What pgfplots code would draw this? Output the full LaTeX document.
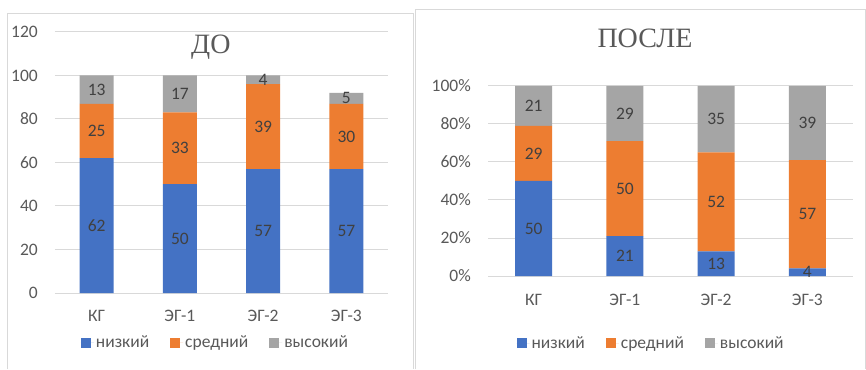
\documentclass[border=0pt]{standalone}
\usepackage{pgfplots}
\usepackage{pgfplotstable}
\pgfplotsset{compat=1.18}
\usepackage{fontspec}
\setmainfont{Carlito}
\newfontfamily\titlefont{Liberation Serif}
\definecolor{cblue}{HTML}{4472C4}
\definecolor{corange}{HTML}{ED7D31}
\definecolor{cgray}{HTML}{A5A5A5}
\definecolor{txt}{HTML}{595959}
\definecolor{lbl}{HTML}{404040}
\definecolor{gridc}{HTML}{D9D9D9}
\newcommand\fs{\fontsize{17.5}{20}\selectfont}

\pgfplotstableread{
x low mid high
0 62 25 13
1 50 33 17
2 57 39 4
3 57 30 5
}\dataDo
\pgfplotstableread{
x low mid high
0 50 29 21
1 21 50 29
2 13 52 35
3 4 57 39
}\dataPosle

\pgfplotsset{
  base/.style={
    scale only axis, anchor=south west,
    xmin=-0.5, xmax=3.5, ymin=0,
    /pgf/number format/assume math mode=true,
    axis line style={draw=none}, tick style={draw=none},
    ticklabel style={font=\fs, text=txt},
    xtick={0,1,2,3}, xticklabels={КГ,ЭГ-1,ЭГ-2,ЭГ-3},
    every y tick label/.append style={inner sep=0pt, anchor=east, xshift=-17pt},
    ymajorgrids, grid style={gridc, line width=1pt},
  },
  lblaxis/.style={
    scale only axis, anchor=south west,
    xmin=-0.5, xmax=3.5, ymin=0, hide axis,
  },
  lblplot/.style={draw=none, mark=none, nodes near coords, point meta=explicit symbolic,
    every node near coord/.append style={anchor=center, font=\fs, text=lbl, inner sep=0pt}},
}

\begin{document}
\begin{tikzpicture}
\path[use as bounding box, fill=white] (0,0) rectangle (866pt,369pt);
% panel frames
\draw[gridc, line width=1pt] (7pt,0pt) -- (7pt,355pt) -- (413pt,355pt) -- (413pt,0pt);
\draw[gridc, line width=1pt] (415pt,0pt) -- (415pt,359pt) -- (865pt,359pt) -- (865pt,0pt);

% ---------- ДО ----------
\begin{axis}[base, at={(55pt,76pt)}, width=333pt, height=261pt,
  ymax=120, ytick={0,20,...,120},
  ybar stacked, bar width=34pt,
  every x tick label/.append style={inner sep=0pt, anchor=base, yshift=-28.5pt},
  title={ДО}, title style={at={(axis description cs:0.468,0.8946)}, anchor=base,
    font=\titlefont\fontsize{28}{30}\selectfont, text=txt, inner sep=0pt},
  legend style={at={(axis description cs:0.482,-0.19)}, anchor=center, draw=none, fill=none,
    legend columns=3, font=\fs, text=txt,
    /tikz/every even column/.append style={column sep=19pt}},
  legend image code/.code={\fill[#1] (0pt,-5pt) rectangle (10pt,5pt); \path (0pt,0pt) -- (13pt,0pt);},
]
\addplot[fill=cblue, draw=none] table[x=x, y=low] {\dataDo};
\addplot[fill=corange, draw=none] table[x=x, y=mid] {\dataDo};
\addplot[fill=cgray, draw=none] table[x=x, y=high] {\dataDo};
\legend{низкий, средний, высокий}
\end{axis}
\begin{axis}[lblaxis, at={(55pt,76pt)}, width=333pt, height=261pt, ymax=120]
\addplot[lblplot] table[x=x, y expr=\thisrow{low}/2, meta=low] {\dataDo};
\addplot[lblplot] table[x=x, y expr=\thisrow{low}+\thisrow{mid}/2, meta=mid] {\dataDo};
\addplot[lblplot] table[x=x, y expr=\thisrow{low}+\thisrow{mid}+\thisrow{high}/2, meta=high] {\dataDo};
\end{axis}

% ---------- ПОСЛЕ ----------
\begin{axis}[base, at={(488pt,93pt)}, width=365pt, height=190pt,
  ymax=100, ytick={0,20,...,100}, yticklabel={\pgfmathprintnumber{\tick}\%},
  ybar stacked, bar width=37pt,
  every x tick label/.append style={inner sep=0pt, anchor=base, yshift=-29.5pt},
  title={ПОСЛЕ}, title style={at={(axis description cs:0.430,1.172)}, anchor=base,
    font=\titlefont\fontsize{28}{30}\selectfont, text=txt, inner sep=0pt},
  legend style={at={(axis description cs:0.447,-0.353)}, anchor=center, draw=none, fill=none,
    legend columns=3, font=\fs, text=txt,
    /tikz/every even column/.append style={column sep=19pt}},
  legend image code/.code={\fill[#1] (0pt,-5pt) rectangle (10pt,5pt); \path (0pt,0pt) -- (13pt,0pt);},
]
\addplot[fill=cblue, draw=none] table[x=x, y=low] {\dataPosle};
\addplot[fill=corange, draw=none] table[x=x, y=mid] {\dataPosle};
\addplot[fill=cgray, draw=none] table[x=x, y=high] {\dataPosle};
\legend{низкий, средний, высокий}
\end{axis}
\begin{axis}[lblaxis, at={(488pt,93pt)}, width=365pt, height=190pt, ymax=100]
\addplot[lblplot] table[x=x, y expr=\thisrow{low}/2, meta=low] {\dataPosle};
\addplot[lblplot] table[x=x, y expr=\thisrow{low}+\thisrow{mid}/2, meta=mid] {\dataPosle};
\addplot[lblplot] table[x=x, y expr=\thisrow{low}+\thisrow{mid}+\thisrow{high}/2, meta=high] {\dataPosle};
\end{axis}
\end{tikzpicture}
\end{document}
